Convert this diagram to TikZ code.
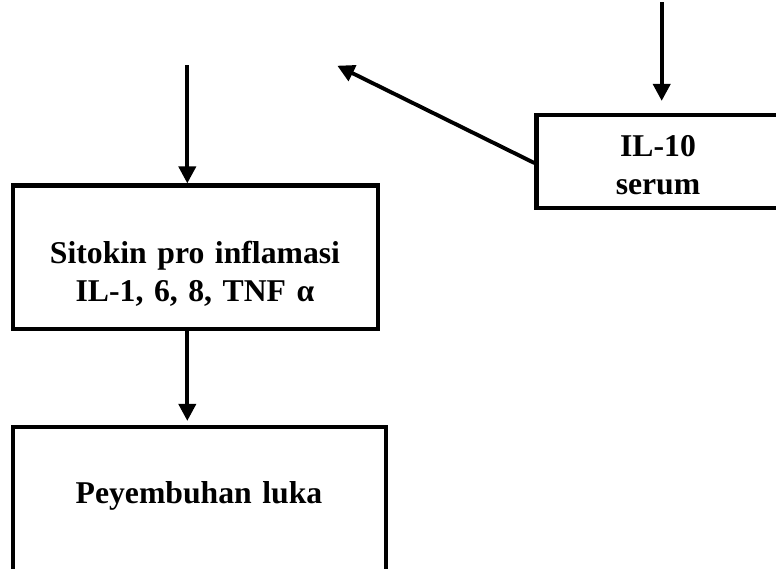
\documentclass[tikz,border=0pt]{standalone}
\usepackage{fontspec}
\setmainfont{Liberation Serif}
\usetikzlibrary{arrows.meta}
\begin{document}
\begin{tikzpicture}[x=1pt,y=-1pt,
  box/.style={draw=black, line width=4.2pt, inner sep=0pt, fill=none},
  lbl/.style={font=\fontsize{31.7}{38.5}\selectfont\bfseries, inner sep=0pt,
    align=center, text width=380pt, anchor=base},
  arr/.style={line width=3.9pt, -{Triangle[length=17pt,width=17pt]}}]
  \useasboundingbox (0,0) rectangle (776,568);
  \clip (0,0) rectangle (776,568);
  \fill[white] (0,0) rectangle (776,568);

  % boxes
  \node[box, minimum width=365pt, minimum height=143.5pt] (sit) at (195.5,257.25) {};
  \node[box, minimum width=373pt, minimum height=153pt] (pey) at (199.5,503.5) {};
  \node[box, minimum width=300pt, minimum height=93pt] (il) at (686.5,161.5) {};

  % labels
  \node[lbl] (sitt) at (195,263) {Sitokin pro inflamasi\\IL-1, 6, 8, TNF α};
  \node[lbl] (peyt) at (199,503) {Peyembuhan luka};
  \node[lbl] (ilt) at (658,156) {IL-10\\serum};

  % free ends of the arrows
  \coordinate (topl) at (187.3,65);
  \coordinate (topr) at (661.7,2);
  \coordinate (diag) at (337.3,65.7);

  % arrows
  \draw[arr] (topl) -- ([xshift=-8.2pt]sit.north);
  \draw[arr, shorten >=4pt] ([xshift=-8.2pt]sit.south) -- ([xshift=-12.2pt]pey.north);
  \draw[arr, shorten >=12pt] (topr) -- (il.north -| topr);
  \draw[arr] ([yshift=-1.5pt]il.west) -- (diag);
\end{tikzpicture}
\end{document}
